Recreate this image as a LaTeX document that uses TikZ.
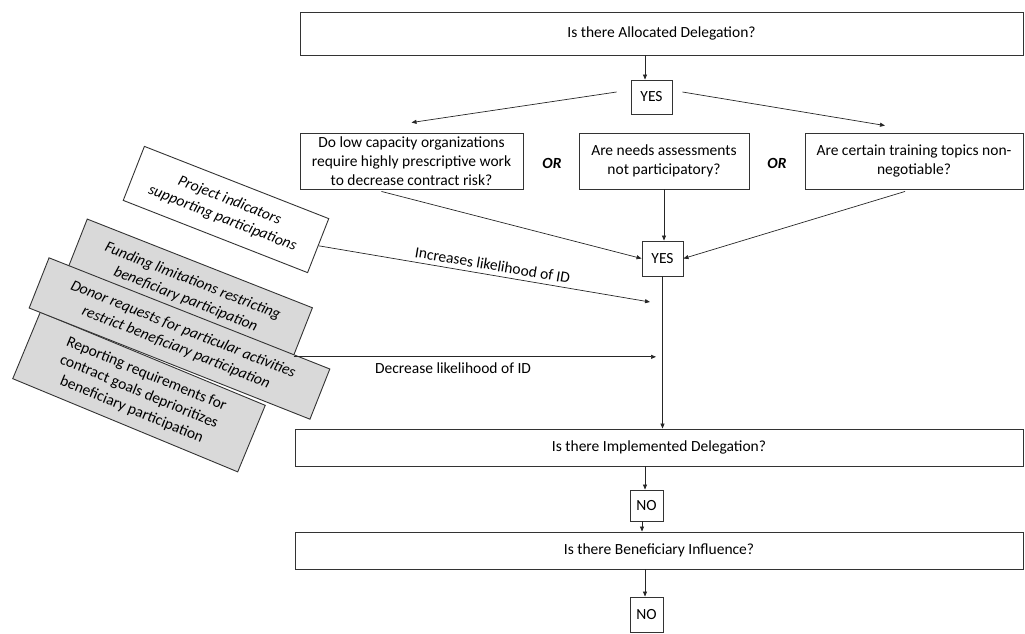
\documentclass[tikz,border=0pt]{standalone}
\usepackage{fontspec}
\setmainfont{Carlito}
\usetikzlibrary{arrows.meta,calc}
\definecolor{boxgray}{RGB}{217,217,217}
\begin{document}
\begin{tikzpicture}[x=1pt,y=-1pt,
  every node/.style={font=\fontsize{15.5}{19.3}\selectfont},
  box/.style={draw=black!80, line width=0.9pt, fill=white, align=center, inner sep=0pt},
  tilted/.style={box, font=\fontsize{15.5}{19.3}\selectfont\itshape},
  shaded/.style={fill=boxgray},
  arr/.style={draw=black!85, line width=0.7pt, -{Triangle[length=5pt,width=4pt]}},
  ortext/.style={font=\fontsize{15.5}{19.3}\selectfont\bfseries\itshape}
]
\useasboundingbox (0,0) rectangle (1025,633);

% main question chain
\node[box, minimum width=723pt, minimum height=43pt] (alloc) at (661.5,33.5) {Is there Allocated Delegation?};
\node[box, minimum width=41pt, minimum height=34pt] (yes1) at (651.5,97) {YES};

\node[box, minimum width=223pt, minimum height=56pt] (lbox) at (411.5,161)
  {Do low capacity organizations\\require highly prescriptive work\\to decrease contract risk?};
\node[box, minimum width=170pt, minimum height=56pt] (mbox) at (664,161)
  {Are needs assessments\\not participatory?};
\node[box, minimum width=218pt, minimum height=56pt] (rbox) at (914,161)
  {Are certain training topics non-\\negotiable?};
\node[ortext] (or1) at (552,163) {OR};
\node[ortext] (or2) at (777,163) {OR};

\node[box, minimum width=41pt, minimum height=35pt] (yes2) at (662.5,258.5) {YES};

\node[box, minimum width=728pt, minimum height=37pt] (impl) at (659,447.5) {Is there Implemented Delegation?};
\node[box, minimum width=33pt, minimum height=31pt] (no1) at (646.5,505.5) {NO};
\node[box, minimum width=728pt, minimum height=37pt] (benef) at (659,550.5) {Is there Beneficiary Influence?};
\node[box, minimum width=33pt, minimum height=35pt] (no2) at (646.5,614.5) {NO};

% tilted factor boxes
\node[tilted, rotate=-21.4, minimum width=198pt, minimum height=58pt] (proj) at (226,209.5)
  {Project indicators\\supporting participations};
\node[tilted, shaded, rotate=-21.5, minimum width=242pt, minimum height=58pt] (fund) at (189.2,290.4)
  {Funding limitations restricting\\beneficiary participation};
\node[box, shaded, rotate=-22.5, minimum width=243.5pt, minimum height=72pt] (rep) at (139,392)
  {Reporting requirements for\\contract goals deprioritizes\\beneficiary participation};
\node[tilted, shaded, rotate=-21.6, minimum width=302pt, minimum height=54pt] (donor) at (179.5,338.5)
  {Donor requests for particular activities\\restrict beneficiary participation};

% connectors of the upper part
\coordinate (t1) at ([xshift=-6.5pt]yes1.north);
\draw[arr] (t1 |- alloc.south) -- (t1);
\draw[arr] ([xshift=-14pt,yshift=5pt]yes1.west) -- ([yshift=10pt]lbox.north);
\draw[arr] ([xshift=10pt,yshift=5pt]yes1.east) -- ([xshift=-29pt,yshift=7pt]rbox.north);

\draw[arr] ([xshift=-30pt,yshift=-2pt]lbox.south) -- (yes2.west);
\draw[arr] (mbox.south) -- (mbox.south |- yes2.north);
\draw[arr] ([xshift=-9pt,yshift=-2pt]rbox.south) -- (yes2.east);

% influences from the side factors
\coordinate (inctip) at (650,302);
\draw[arr] (proj.east) -- node[pos=0.52, above=1pt, sloped] {Increases likelihood of ID} (inctip);
\coordinate (dstart) at ($(fund.north east)!0.9!(fund.south east)$);
\coordinate (dtip) at (656,356);
\draw[arr] (dstart) -- node[pos=0.44, below=2pt] {Decrease likelihood of ID} (dstart -| dtip);

% lower part of the chain
\draw[arr] (yes2.south) -- (yes2.south |- impl.north);
\coordinate (t2) at ([xshift=-1.5pt]no1.north);
\draw[arr] (t2 |- impl.south) -- (t2);
\coordinate (t3) at ([xshift=-4.5pt]no1.south);
\draw[arr] (t3) -- (t3 |- benef.north);
\coordinate (t4) at ([xshift=-1.5pt]no2.north);
\draw[arr] (t4 |- benef.south) -- (t4);
\end{tikzpicture}
\end{document}
